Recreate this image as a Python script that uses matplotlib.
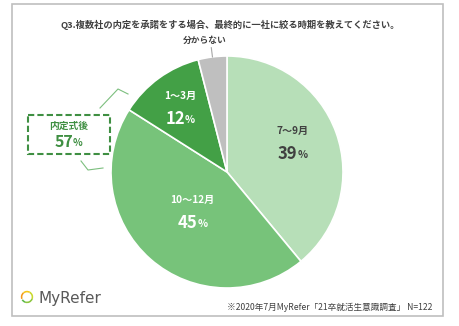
#!/usr/bin/env python3

import numpy as np
import matplotlib
matplotlib.use('Agg')
import matplotlib.pyplot as plt
from matplotlib.patches import Rectangle, Wedge

plt.rcParams['font.family'] = ['Noto Sans CJK JP', 'DejaVu Sans']

title = 'Q3.複数社の内定を承諾をする場合、最終的に一社に絞る時期を教えてください。'
periods = ['7～9月', '10～12月', '1～3月', '分からない']
shares = [39, 45, 12, 4]
colors = ['#b7dfb8', '#77c37a', '#43a046', '#bfbfbf']
text_colors = ['#404040', 'white', 'white', '#404040']
label_radius = [0.6, 0.45, 0.69, None]
label_nudge = [(0, 6), (0, 0), (0, 0), (0, 0)]
group_name = '内定式後'
group_members = ['10～12月', '1～3月']
note = '※2020年7月MyRefer「21卒就活生意識調査」 N=122'

W, H = 459, 326


def main():
    fig = plt.figure(figsize=(W / 100, H / 100), dpi=100)
    ax = fig.add_axes([0, 0, 1, 1])
    ax.set_xlim(0, W)
    ax.set_ylim(H, 0)
    ax.axis('off')

    # outer frame
    ax.add_patch(Rectangle((12, 4), 431, 312, fill=False, ec='#bfbfbf', lw=1.2))

    ax.text(230, 25, title, ha='center', va='center', fontsize=6.7,
            fontweight='bold', color='#404040')

    # pie
    cx, cy, r = 227, 172, 116
    pax = fig.add_axes([(cx - r) / W, (H - cy - r) / H, 2 * r / W, 2 * r / H])
    wedges, _ = pax.pie(shares, colors=colors, startangle=90, counterclock=False,
                        wedgeprops=dict(edgecolor='white', linewidth=1.2))
    pax.set_xlim(-1, 1)
    pax.set_ylim(-1, 1)
    pax.axis('off')

    for w, name, val, tc, lr, nd in zip(wedges, periods, shares, text_colors,
                                        label_radius, label_nudge):
        mid = np.deg2rad((w.theta1 + w.theta2) / 2)
        if lr is None:
            x0, y0 = np.cos(mid), np.sin(mid)
            x1, y1 = 1.08 * np.cos(mid), 1.08 * np.sin(mid)
            pax.plot([x0, x1], [y0, y1], color='#a6a6a6', lw=0.8, clip_on=False)
            pax.annotate(name, (x1, y1), xytext=(-7, 3), textcoords='offset pixels',
                         ha='center', va='bottom', fontsize=6.3, fontweight='bold',
                         color=tc, annotation_clip=False)
            continue
        x, y = lr * np.cos(mid), lr * np.sin(mid)
        dx, dy = nd
        pax.annotate(name, (x, y), xytext=(dx, 11 + dy), textcoords='offset pixels',
                     ha='center', va='center', fontsize=7.3, fontweight='bold', color=tc)
        pax.annotate(str(val), (x, y), xytext=(dx + 5, -12 + dy), textcoords='offset pixels',
                     ha='right', va='center', fontsize=12, fontweight='bold', color=tc)
        pax.annotate('%', (x, y), xytext=(dx + 5, -13 + dy), textcoords='offset pixels',
                     ha='left', va='center', fontsize=7.5, fontweight='bold', color=tc)

    # group callout
    group_total = sum(v for p, v in zip(periods, shares) if p in group_members)
    ax.add_patch(Rectangle((28, 115), 82, 39, fc='white', ec='#3f8f42', lw=1.5, ls=(0, (3, 1.5))))
    ax.text(69, 126, group_name, ha='center', va='center', fontsize=7,
            fontweight='bold', color='#3f8f42')
    ax.text(73, 142, str(group_total), ha='right', va='center', fontsize=11.5,
            fontweight='bold', color='#3f8f42')
    ax.text(73, 143, '%', ha='left', va='center', fontsize=7.2,
            fontweight='bold', color='#3f8f42')
    ax.plot([100, 118, 128], [108, 89, 94], color='#7cbf7e', lw=0.8)
    ax.plot([81, 88, 103], [161, 170, 168], color='#7cbf7e', lw=0.8)

    # logo
    ring = [(-200, -130, '#f39a1e'), (-130, -60, '#f5c518'), (-60, 20, '#c9d82e'),
            (20, 110, '#8cc63f'), (110, 150, '#5db84a')]
    for a1, a2, c in ring:
        ax.add_patch(Wedge((27, 297), 6.2, a1, a2, width=1.6, fc=c, ec='none'))
    ax.text(39, 298, 'MyRefer', ha='left', va='center', fontsize=11,
            color='#595959', family='DejaVu Sans')

    ax.text(432, 307, note, ha='right', va='center', fontsize=6.2, color='#404040')

    fig.savefig('out.png', dpi=100)


if __name__ == '__main__':
    main()
